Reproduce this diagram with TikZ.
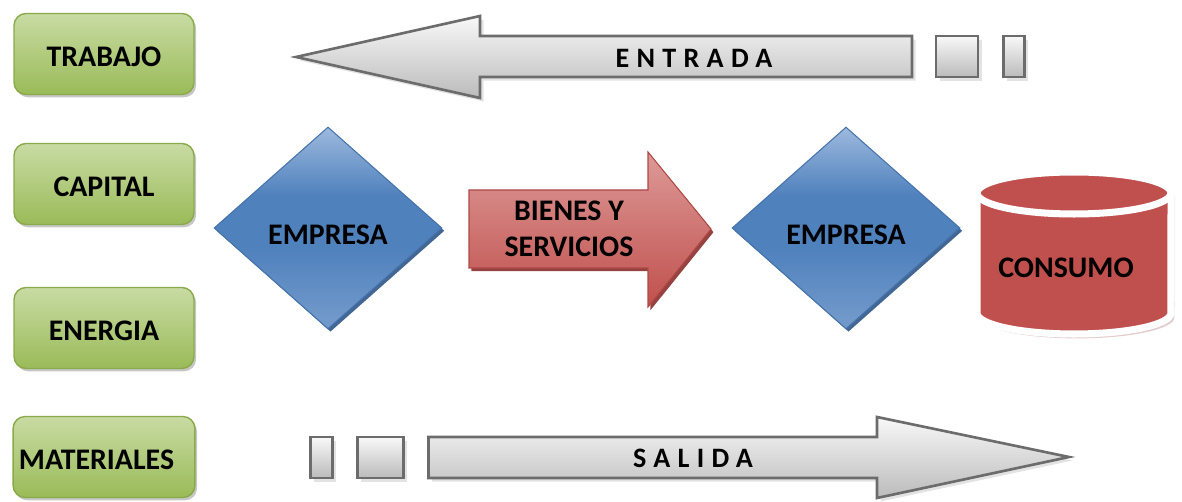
\documentclass[tikz,border=0pt]{standalone}
\usepackage{fontspec}
\setmainfont{Carlito}
\usetikzlibrary{shapes.geometric,shadows,positioning}

\definecolor{verdeclaro}{HTML}{C8DBA3}
\definecolor{verdeoscuro}{HTML}{9ABB58}
\definecolor{verdeborde}{HTML}{8AAA4A}
\definecolor{azulclaro}{HTML}{9DB9DE}
\definecolor{azulmedio}{HTML}{4F81BD}
\definecolor{azulbajo}{HTML}{7098CA}
\definecolor{azulborde}{HTML}{4673AA}
\definecolor{azulsombra}{HTML}{2E5688}
\definecolor{rojoclaro}{HTML}{DD9A98}
\definecolor{rojo}{HTML}{C0504D}
\definecolor{rojosombra}{HTML}{8A2E2C}
\definecolor{grisclaro}{HTML}{F8F8F8}
\definecolor{grisoscuro}{HTML}{BBBBBB}
\definecolor{grisborde}{HTML}{6C6C6C}

\pgfdeclareverticalshading{azulgrad}{100bp}{color(0bp)=(azulbajo); color(28bp)=(azulbajo);
  color(45bp)=(azulmedio); color(58bp)=(azulmedio); color(75bp)=(azulclaro); color(100bp)=(azulclaro)}

\begin{document}
\begin{tikzpicture}[x=0.02cm,y=-0.02cm,
  factor/.style={rectangle, rounded corners=0.24cm, draw=verdeborde, line width=0.8pt,
    top color=verdeclaro, bottom color=verdeoscuro, minimum width=3.6cm, minimum height=1.62cm,
    font=\bfseries\fontsize{17}{20}\selectfont, text height=14.4pt, text depth=0pt,
    drop shadow={shadow xshift=1.2pt, shadow yshift=-1.6pt, opacity=0.45}},
  empresa/.style={diamond, draw=azulborde, line width=0.6pt, inner sep=0pt, shading=azulgrad,
    minimum width=4.56cm, minimum height=4.04cm, font=\bfseries\fontsize{17}{20}\selectfont,
    text height=19pt, text depth=0pt,
    drop shadow={shadow xshift=1.4pt, shadow yshift=-1.6pt, fill=azulsombra, opacity=0.9}},
  flecha/.style={draw=grisborde, line width=1.5pt, top color=grisclaro, bottom color=grisoscuro,
    drop shadow={shadow xshift=2pt, shadow yshift=-2pt, opacity=0.22}},
  bloque/.style={flecha, rectangle, inner sep=0pt, minimum height=0.82cm},
  rotulo/.style={font=\bfseries\fontsize{16}{18}\selectfont\addfontfeatures{LetterSpace=26}},
  texto/.style={font=\bfseries\fontsize{17}{20.5}\selectfont, align=center}]

\useasboundingbox (0,0) rectangle (1182,502);

\node[factor] (trabajo) at (104,54) {TRABAJO};
\node[factor] (capital) at (104,184) {CAPITAL};
\node[factor] (energia) at (104,328) {ENERGIA};
\node[factor] (materiales) at (104,457) {MATERIALES\kern0.3cm};

\draw[flecha] (296,57) -- (480,16) -- (480,36) -- (912,36) -- (912,77) -- (480,77) -- (480,98) -- cycle;
\node[rotulo] (entrada) at (694,58) {ENTRADA};
\node[bloque, minimum width=0.84cm] (ent1) at (957,56.5) {};
\node[bloque, minimum width=0.42cm] (ent2) at (1014,56.5) {};

\node[empresa] (emp1) at (328,228) {EMPRESA};

\draw[top color=rojoclaro, bottom color=rojo, draw=rojo!90!black, line width=0.6pt,
  drop shadow={shadow xshift=1.4pt, shadow yshift=-1.8pt, fill=rojosombra, opacity=0.9}]
  (469,190) -- (648,190) -- (648,152) -- (711,229) -- (648,307) -- (648,268) -- (469,268) -- cycle;
\node[texto] (bienes) at (569,229) {BIENES Y\\SERVICIOS};

\node[empresa] (emp2) at (846,228) {EMPRESA};

\path[fill=rojo, draw=white, line width=4pt,
  drop shadow={shadow xshift=2pt, shadow yshift=-2.5pt, fill=rojosombra!40, opacity=0.6}]
  (977,193) -- (977,313) arc[start angle=180, end angle=360, x radius=1.94cm, y radius=0.42cm]
  -- (1171,193) arc[start angle=0, end angle=180, x radius=1.94cm, y radius=0.42cm] -- cycle;
\draw[white, line width=4pt] (977,193) arc[start angle=180, end angle=360, x radius=1.94cm, y radius=0.42cm];
\node[texto] (consumo) at (1066,268) {CONSUMO};

\node[bloque, minimum width=0.44cm] (sal1) at (321.5,457.5) {};
\node[bloque, minimum width=0.92cm] (sal2) at (380.5,457.5) {};
\draw[flecha] (428.5,437) -- (877,437) -- (877,417) -- (1069,457) -- (877,498) -- (877,478) -- (428.5,478) -- cycle;
\node[rotulo] (salida) at (693,458) {SALIDA};

\end{tikzpicture}
\end{document}
